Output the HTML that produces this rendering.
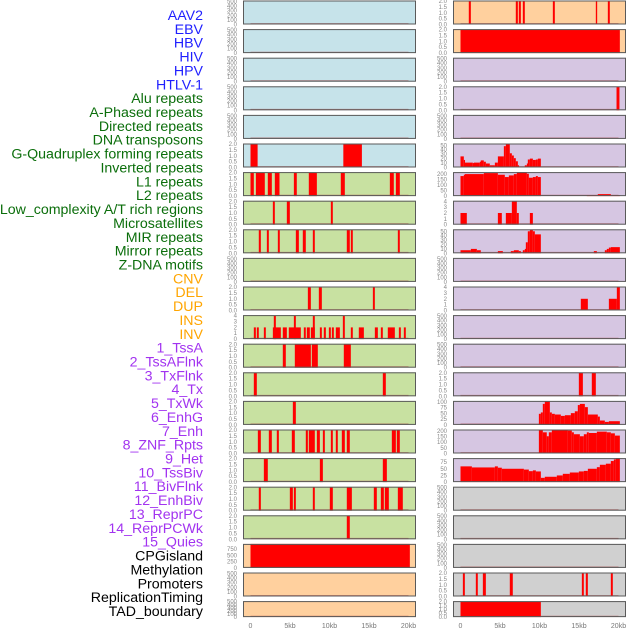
<!DOCTYPE html>
<html><head><meta charset="utf-8"><style>
html,body{margin:0;padding:0;background:#fff;}
svg{display:block;font-family:"Liberation Sans",sans-serif;}
</style></head><body>
<svg id="chart" width="630" height="630" viewBox="0 0 630 630"></svg>
<script>
// ---- data ----
const labels = ["AAV2","EBV","HBV","HIV","HPV","HTLV-1","Alu repeats","A-Phased repeats","Directed repeats","DNA transposons","G-Quadruplex forming repeats","Inverted repeats","L1 repeats","L2 repeats","Low_complexity A/T rich regions","Microsatellites","MIR repeats","Mirror repeats","Z-DNA motifs","CNV","DEL","DUP","INS","INV","1_TssA","2_TssAFlnk","3_TxFlnk","4_Tx","5_TxWk","6_EnhG","7_Enh","8_ZNF_Rpts","9_Het","10_TssBiv","11_BivFlnk","12_EnhBiv","13_ReprPC","14_ReprPCWk","15_Quies","CPGisland","Methylation","Promoters","ReplicationTiming","TAD_boundary"];
const labelGroups = ["virus","virus","virus","virus","virus","virus","rep","rep","rep","rep","rep","rep","rep","rep","rep","rep","rep","rep","rep","sv","sv","sv","sv","sv","chr","chr","chr","chr","chr","chr","chr","chr","chr","chr","chr","chr","chr","chr","chr","oth","oth","oth","oth","oth"];
const xTicks = [0,5000,10000,15000,20000];
const xTickLabels = ["0","5kb","10kb","15kb","20kb"];
const ticks500 = [0,100,200,300,400,500];
const ticks2 = [0,0.5,1,1.5,2];
const ticks4 = [0,1,2,3,4];
const ticks50 = [0,10,20,30,40,50];
const ticks200 = [0,50,100,150,200];
const ticks100 = [0,25,50,75,100];
const ticks75 = [0,25,50,75];
const ticks750 = [0,250,500,750];
// segments: [start kb, end kb, value]
const segHTLV = [[0,0.9,2],[11.75,14.1,2]];
const segAlu = [[0,0.42,2],[0.68,1.81,2],[2.19,2.7,2],[3.08,3.67,2],[5.49,5.86,2],[7.38,8.4,2],[11.43,11.94,2],[17.64,18.14,2],[18.4,18.9,2]];
const segAPhased = [[2.83,3.08,2],[4.6,4.98,2],[10.17,10.42,2]];
const segDirected = [[1.05,1.31,2],[2.07,2.32,2],[3.46,3.71,2],[5.74,6.12,2],[6.62,7.0,2],[7.89,8.14,2],[12.19,12.57,2],[12.7,12.95,2],[18.65,18.9,2]];
const segGQuad = [[7.26,7.64,2],[8.65,9.03,2],[15.49,15.74,2]];
const segInverted = [[0.42,0.68,2],[0.8,1.05,2],[1.69,1.94,2],[2.83,3.84,2],[2.95,3.21,4],[4.09,4.6,2],[4.85,6.37,2],[5.49,5.74,4],[6.75,7.0,2],[7.13,7.51,2],[7.64,8.14,2],[7.89,8.14,4],[8.78,9.03,2],[9.28,9.54,2],[9.92,10.17,2],[10.3,10.55,2],[10.8,11.31,2],[11.69,11.94,4],[12.7,12.95,2],[13.71,14.35,2],[15.74,16.12,2],[16.5,16.75,2],[17.38,18.27,2],[18.78,19.03,2],[19.41,19.66,2]];
const segL1 = [[4.09,4.47,2],[5.61,7.64,2],[7.76,8.52,2],[11.81,12.7,2]];
const segL2 = [[0.42,0.8,2],[16.75,17.13,2]];
const segLowComp = [[5.36,5.74,2]];
const segMicro = [[0.93,1.31,2],[2.32,2.7,2],[3.33,3.59,2],[5.23,5.61,2],[7.0,7.26,2],[7.38,8.14,2],[8.4,8.78,2],[9.16,9.41,2],[10.17,10.42,2],[10.8,11.05,2],[11.56,11.94,2],[12.19,12.57,2],[17.89,18.4,2],[18.52,18.9,2]];
const segMIR = [[1.69,2.19,2],[8.78,9.16,2],[16.75,17.26,2]];
const segMirror = [[1.05,1.31,2],[4.98,5.36,2],[5.49,5.74,2],[7.89,8.14,2],[10.04,10.42,2],[12.19,12.83,2],[15.61,15.99,2],[16.5,16.88,2],[17.0,17.51,2],[18.65,19.28,2]];
const segZDNA = [[12.19,12.57,2]];
const segCNV = [[0,20.17,960]];
const segINS = [[1.05,1.31,2],[7.0,7.26,2],[7.38,7.64,2],[7.89,8.14,2],[11.69,11.94,2],[17.13,17.3,2],[18.65,18.9,2]];
const segINV = [[0,20.17,2]];
const segTssAFlnk = [[19.75,20.12,2]];
const segTx = [[0,0.42,25],[0.42,0.55,17],[0.55,1.56,11],[1.56,1.69,10],[1.69,2.45,11],[2.45,2.57,13],[2.57,2.95,16],[2.95,3.21,13],[3.21,3.71,9],[3.71,4.35,5],[4.35,4.73,11],[4.73,5.49,25],[5.49,5.74,48],[5.74,6.24,53],[6.24,6.5,32],[6.5,6.75,27],[6.75,7.0,21],[7.0,7.26,14],[7.26,7.38,5],[8.14,8.4,5],[8.4,8.52,9],[8.52,8.78,18],[8.78,9.16,20],[9.16,9.54,17],[9.54,9.79,18],[9.79,10.17,20]];
const segTxWk = [[0,0.42,182],[0.42,0.55,194],[0.55,2.95,200],[2.95,4.73,209],[4.73,5.61,194],[5.61,6.12,173],[6.12,6.75,188],[6.75,7.13,200],[7.13,8.4,218],[8.4,8.65,203],[8.65,9.16,167],[9.16,9.54,173],[9.54,9.79,182],[9.79,10.17,173],[15.99,17.38,9],[17.38,19.03,18],[19.03,20.17,9]];
const segEnhG = [[0,0.8,2],[4.73,5.23,2],[5.74,6.5,2],[6.5,7.13,4],[7.13,7.38,2],[8.78,9.16,2]];
const segEnh = [[0,1.31,7],[1.31,2.07,10],[2.07,2.57,7],[4.73,5.36,5],[6.37,6.75,5],[6.75,7.38,7],[7.38,7.64,5],[7.89,8.14,7],[8.14,8.27,10],[8.27,8.52,25],[8.52,8.78,50],[8.78,9.16,54],[9.16,9.41,50],[9.41,10.17,43],[16.88,17.26,5],[18.27,18.52,7],[18.52,18.78,10],[18.78,19.03,13],[19.03,20.17,14]];
const segHet = [[15.23,16.12,2],[18.78,19.79,2],[19.79,20.17,4]];
const segEnhBiv = [[14.98,15.49,2],[16.62,17.13,2]];
const segReprPC = [[9.92,10.17,48],[10.17,10.42,54],[10.42,10.67,91],[10.67,11.31,103],[11.31,11.56,54],[11.56,11.94,48],[11.94,12.7,45],[12.7,13.21,39],[13.21,13.97,42],[13.97,14.47,51],[14.47,14.85,59],[14.85,15.11,86],[15.11,15.74,91],[15.74,16.12,77],[16.12,17.38,45],[17.38,17.64,36],[17.64,18.27,19],[18.27,18.78,13],[18.78,20.17,16]];
const segReprPCWk = [[9.92,10.42,209],[10.42,10.92,188],[10.92,11.18,153],[11.18,11.56,188],[11.56,13.59,209],[13.59,14.09,203],[14.09,14.35,188],[14.35,15.11,171],[15.11,15.61,153],[15.61,15.99,171],[15.99,16.24,188],[16.24,17.26,182],[17.26,18.52,194],[18.52,19.03,188],[19.03,19.54,179],[19.54,20.17,159]];
const segQuies = [[0,1.44,59],[1.44,4.35,55],[4.35,4.73,59],[4.73,5.23,54],[5.23,8.02,50],[8.02,8.65,47],[8.65,9.16,41],[9.16,9.54,44],[9.54,10.17,40],[10.17,10.67,16],[10.67,12.19,20],[12.19,12.95,25],[12.95,13.84,31],[13.84,14.98,36],[14.98,15.61,40],[15.61,16.12,42],[16.12,17.26,50],[17.26,17.64,56],[17.64,18.4,65],[18.4,19.03,69],[19.03,19.41,79],[19.41,19.66,85],[19.66,20.17,91]];
const segRepTiming = [[0.3,0.55,2],[1.94,2.19,2],[2.83,3.21,2],[6.24,6.62,2],[15.36,15.61,2],[15.86,16.12,2],[19.03,19.28,2]];
const segTAD = [[0,10.17,2]];

// col, row, bg, ymax, ticks, segs
const tracks = [
 [0,0,"blue",520,ticks500,[]],[0,1,"blue",520,ticks500,[]],[0,2,"blue",520,ticks500,[]],[0,3,"blue",520,ticks500,[]],[0,4,"blue",520,ticks500,[]],
 [0,5,"blue",2.05,ticks2,segHTLV],
 [0,6,"green",2.05,ticks2,segAlu],[0,7,"green",2.05,ticks2,segAPhased],[0,8,"green",2.05,ticks2,segDirected],
 [0,9,"green",520,ticks500,[]],[0,10,"green",2.05,ticks2,segGQuad],[0,11,"green",4.1,ticks4,segInverted],
 [0,12,"green",2.05,ticks2,segL1],[0,13,"green",2.05,ticks2,segL2],[0,14,"green",2.05,ticks2,segLowComp],
 [0,15,"green",2.05,ticks2,segMicro],[0,16,"green",2.05,ticks2,segMIR],[0,17,"green",2.05,ticks2,segMirror],
 [0,18,"green",2.05,ticks2,segZDNA],[0,19,"orange",960,ticks750,segCNV],[0,20,"orange",520,ticks500,[]],[0,21,"orange",520,ticks500,[]],
 [1,0,"orange",2.05,ticks2,segINS],[1,1,"orange",2.05,ticks2,segINV],[1,2,"purple",520,ticks500,[]],
 [1,3,"purple",2.05,ticks2,segTssAFlnk],[1,4,"purple",520,ticks500,[]],[1,5,"purple",54,ticks50,segTx],
 [1,6,"purple",218,ticks200,segTxWk],[1,7,"purple",4.1,ticks4,segEnhG],[1,8,"purple",54.5,ticks50,segEnh],
 [1,9,"purple",520,ticks500,[]],[1,10,"purple",4.1,ticks4,segHet],[1,11,"purple",520,ticks500,[]],[1,12,"purple",520,ticks500,[]],
 [1,13,"purple",2.05,ticks2,segEnhBiv],[1,14,"purple",104,ticks100,segReprPC],[1,15,"purple",213,ticks200,segReprPCWk],
 [1,16,"purple",90,ticks75,segQuies],[1,17,"grey",520,ticks500,[]],[1,18,"grey",520,ticks500,[]],[1,19,"grey",520,ticks500,[]],
 [1,20,"grey",2.05,ticks2,segRepTiming],[1,21,"grey",2.05,ticks2,segTAD]
];

// ---- drawing ----
const NS="http://www.w3.org/2000/svg";
const svg=document.getElementById("chart");
const bgColors={blue:"#c6e3ea",green:"#c8e1a1",orange:"#ffd09e",purple:"#d6c6e2",grey:"#d0d0d0"};
const groupColors={virus:"#1f1fff",rep:"#0b6e0b",sv:"#ffa500",chr:"#a233f0",oth:"#000000"};
const colX=[243,453], panelW=173, dataL=7.5, dataR=165.5;
function mk(tag,attrs,parent){const e=document.createElementNS(NS,tag);for(const k in attrs)e.setAttribute(k,attrs[k]);(parent||svg).appendChild(e);return e;}
function xScale(col,kb){return colX[col]+dataL+(kb*1000/20000)*(dataR-dataL);}
function rowTop(r){return 0.5+28.6*r;}
function rowH(r){return r===21?16:24;}

labels.forEach((t,i)=>{
  const e=mk("text",{x:203,y:15+13.86*i+5,"text-anchor":"end","font-size":"14.2",fill:groupColors[labelGroups[i]]});
  
  
  e.textContent=t;
});

tracks.forEach((tr,i)=>{
  const [col,row,bg,ymax,ticks,segs]=tr;
  const top=rowTop(row), h=rowH(row), x0=colX[col];
  const g=mk("g",{});
  
  
  mk("rect",{x:x0,y:top,width:panelW,height:h,fill:bgColors[bg]},g);
  const yS=v=>top+h-(v/ymax)*h;
  const bl=mk("line",{x1:xScale(col,0),x2:xScale(col,20),y1:top+h-0.8,y2:top+h-0.8,stroke:"#b04040","stroke-opacity":"0.6","stroke-width":"1.2"},g);
  
  
  segs.forEach(s=>{
    const xa=xScale(col,s[0]), xb=xScale(col,s[1]);
    const v=Math.min(s[2],ymax);
    const r=mk("rect",{x:xa,y:yS(v),width:Math.max(1.2,xb-xa),height:top+h-yS(v),fill:"#ff0000"},g);
    
    
  });
  mk("rect",{x:x0+0.5,y:top+0.5,width:panelW-1,height:h-1,fill:"none",stroke:"#5a5a5a","stroke-width":"1"},g);
  ticks.forEach(t=>{
    const lab=(ticks===ticks2)?t.toFixed(1):String(t);
    const e=mk("text",{x:x0-6,y:yS(t)+2,"text-anchor":"end","font-size":"6",fill:"#888"},g);
    
    
    e.textContent=lab;
  });
});

[0,1].forEach(col=>{
  xTicks.forEach((t,j)=>{
    const e=mk("text",{x:xScale(col,t/1000),y:628,"text-anchor":"middle","font-size":"7",fill:"#777"});
    
    
    e.textContent=xTickLabels[j];
  });
});
</script>
</body></html>
